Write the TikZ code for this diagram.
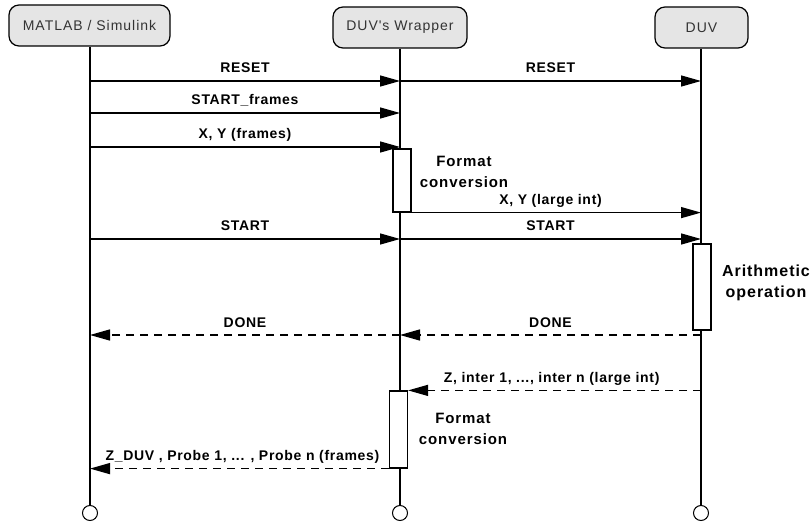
\documentclass[tikz,border=0pt]{standalone}
\usepackage{fontspec}
\setmainfont{Liberation Sans}
\newfontfamily\headfont[LetterSpace=7]{Liberation Sans}
\newfontfamily\lblfont[LetterSpace=5]{Liberation Sans}
\newfontfamily\notefont[LetterSpace=6]{Liberation Sans}
\usetikzlibrary{arrows.meta}
\begin{document}
\begin{tikzpicture}[x=1pt,y=-1pt,
 head/.style={draw, line width=1.2pt, rounded corners=10pt, fill=gray!20, minimum height=41pt, inner sep=0pt,
   font=\headfont\fontsize{14}{16}\selectfont, text=black!80},
 life/.style={line width=1.3pt},
 endc/.style={circle, draw, line width=1pt, minimum size=15pt, inner sep=0pt, fill=white},
 act/.style={draw, line width=1.2pt, fill=white, minimum width=18pt, inner sep=0pt},
 msg/.style={line width=1.3pt, -{Triangle[length=20pt,width=11pt]}},
 ret/.style={msg, dash pattern=on 8pt off 6pt},
 lbl/.style={font=\lblfont\bfseries\fontsize{14}{16}\selectfont, anchor=base, yshift=8pt, inner sep=0pt},
 note/.style={font=\notefont\bfseries\fontsize{15}{21}\selectfont, align=center, inner sep=0pt}
]
\useasboundingbox (0,0) rectangle (812,524);

% headers
\node[head, minimum width=161pt] (m) at (89.5,25.5) {MATLAB / Simulink};
\node[head, minimum width=134pt] (w) at (400,27.5) {DUV's Wrapper};
\node[head, minimum width=93pt] (d) at (701.5,27.5) {DUV};

% end circles
\node[endc] (me) at (90,513) {};
\node[endc] (we) at (400,513) {};
\node[endc] (de) at (701,513) {};

% lifelines
\draw[life] (m.south -| me) -- (me.north);
\draw[life] (w.south -| we) -- (we.north);
\draw[life] (d.south -| de) -- (de.north);

% activation boxes
\node[act, minimum height=63pt] (a1) at (402,180.5) {};
\node[act, minimum height=86pt] (a2) at (702,287) {};
\node[act, minimum height=77pt] (a3) at (398.5,429.5) {};

% message levels
\coordinate (y1) at (0,81);
\coordinate (y2) at (0,113);
\coordinate (y3) at (0,147);
\coordinate (y5) at (0,239);
\coordinate (y6) at (0,335);

% messages
\draw[msg] (me |- y1) -- node[lbl, midway] {RESET} (we |- y1);
\draw[msg] (we |- y1) -- node[lbl, midway] {RESET} (de |- y1);
\draw[msg] (me |- y2) -- node[lbl, midway] {START\_frames} (we |- y2);
\draw[msg] (me |- y3) -- node[lbl, midway] {X, Y (frames)} (we |- y3);
\draw[msg] (a1.south east) -- node[lbl, pos=0.48] {X, Y (large int)} (de |- a1.south east);
\draw[msg] (me |- y5) -- node[lbl, midway] {START} (we |- y5);
\draw[msg] (we |- y5) -- node[lbl, midway] {START} (de |- y5);
\draw[ret] (de |- y6) -- node[lbl, midway] {DONE} (we |- y6);
\draw[ret] (we |- y6) -- node[lbl, midway] {DONE} (me |- y6);
\draw[ret] (de |- a3.north east) -- node[lbl, pos=0.51] {Z, inter 1, ..., inter n (large int)} (a3.north east);
\draw[ret] (a3.south west) -- node[lbl, pos=0.49] {Z\_DUV , Probe 1, ... , Probe n (frames)} (me |- a3.south west);

% notes
\node[note] (n1) at (464,172) {Format\\conversion};
\node[note] (n2) at (463,429) {Format\\conversion};
\node[note, font=\notefont\bfseries\fontsize{16}{21}\selectfont] (n3) at (766,283) {Arithmetic\\operation};
\end{tikzpicture}
\end{document}
